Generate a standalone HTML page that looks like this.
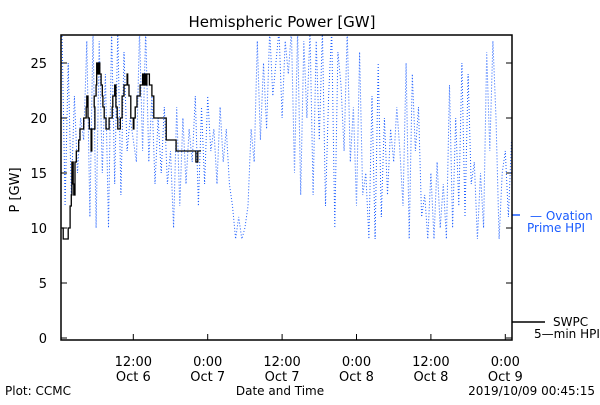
<!DOCTYPE html>
<html><head><meta charset="utf-8"><style>
body{margin:0;background:#fff;}
svg text{font-family:"DejaVu Sans","Liberation Sans",sans-serif;}
</style></head><body>
<svg id="c" width="600" height="400" xmlns="http://www.w3.org/2000/svg">
<rect width="600" height="400" fill="#fff"/>
<text x="282" y="27" font-size="15" text-anchor="middle">Hemispheric Power [GW]</text>
<text transform="translate(19,190) rotate(-90)" font-size="13" text-anchor="middle">P [GW]</text>
<text x="280" y="395" font-size="12" text-anchor="middle">Date and Time</text>
<text x="5" y="395" font-size="12">Plot: CCMC</text>
<text x="595" y="395" font-size="12" text-anchor="end">2019/10/09 00:45:15</text>
<g>
<line x1="512" y1="215" x2="520" y2="215" stroke="#1a5cff" stroke-width="1.5"/>
<text x="530" y="220" font-size="12" fill="#1a5cff">— Ovation</text>
<text x="527" y="232" font-size="12" fill="#1a5cff">Prime HPI</text>
</g>
<g>
<line x1="512" y1="322" x2="545" y2="322" stroke="#000" stroke-width="1.5"/>
<text x="553" y="326" font-size="12">SWPC</text>
<text x="534" y="338" font-size="12">5—min HPI</text>
</g>
<defs><clipPath id="pc"><rect x="61" y="35" width="451" height="305"/></clipPath></defs>
<g id="axes"></g>
<g id="series" clip-path="url(#pc)"></g>
<rect x="61" y="35" width="451" height="305" fill="none" stroke="#000" stroke-width="1.5"/>
</svg>
<script>
const yTicks=[0,5,10,15,20,25];
const xTickHours=[11.5,23.5,35.5,47.5,59.5,71.5];
const xTickLine1=["12:00","0:00","12:00","0:00","12:00","0:00"];
const xTickLine2=["Oct 6","Oct 7","Oct 7","Oct 8","Oct 8","Oct 9"];
const swpcHours=[0,0.2,0.8,1,1.3,1.5,1.6,1.8,1.9,2.1,2.3,2.6,2.7,2.9,3.2,3.5,3.9,4,4.2,4.4,4.7,4.8,5.3,5.2,5.5,5.6,5.8,6.0,6.1,6.3,6.5,6.6,6.8,7.1,7.4,7.6,8.1,8.2,8.5,8.7,8.9,9.0,9.2,9.4,9.7,9.7,10.0,10.5,10.6,10.8,11.1,11.5,11.5,11.6,11.8,12.1,12.6,13.0,13.2,13.4,13.5,13.7,14.1,14.2,14.5,14.8,14.8,15.3,15.6,16.0,16.3,16.6,16.8,17.5,18.1,18.4,18.7,19.0,19.4,19.7,20.0,21.6,21.9,22.1,22.4];
const swpcValues=[10,9,9,10,12,13,16,14,13,16,17,17,18,19,19,20,21,22,20,19,17,19,21,22,23,25,24,25,24,23,22,21,20,19,19,20,21,22,23,21,20,19,19,20,21,22,23,24,23,22,20,19,19,20,21,22,23,24,23,24,23,24,23,23,22,21,20,20,20,20,20,20,18,18,18,17,17,17,17,17,17,16,17,17,17];
const ovationValues=[28,12,25,13,22,15,20,18,27,11,28,10,27,15,24,10,28,14,28,13,26,17,20,18,16,28,17,28,16,22,14,20,15,21,14,17,10,21,12,20,14,19,16,22,12,21,14,22,17,19,14,21,16,19,14,12,9,11,9,10,12,19,16,27,18,25,19,28,22,25,28,20,27,24,28,15,28,13,27,20,28,13,27,18,28,12,22,28,10,26,23,17,28,16,21,12,26,13,15,9,22,9,25,11,20,13,19,16,21,17,12,25,9,24,17,21,11,13,9,15,9,16,10,14,9,23,10,20,12,25,11,24,14,16,9,15,10,26,17,27,20,9,15,17,11,18];
const ovationStepHours=0.5;
const NS="http://www.w3.org/2000/svg";
const X=h=>62+h*6.2, Y=v=>338-v*11;
const ax=document.getElementById('axes'), se=document.getElementById('series');
function mk(t,a,p){const e=document.createElementNS(NS,t);for(const k in a)e.setAttribute(k,a[k]);p.appendChild(e);return e;}
yTicks.forEach(v=>{
  const l=mk('line',{x1:61,x2:67,y1:Y(v),y2:Y(v),stroke:'#000'},ax);
  
  
  const r=mk('line',{x1:506,x2:512,y1:Y(v),y2:Y(v),stroke:'#000'},ax);
  
  
  const t=mk('text',{x:47,y:Y(v)+5,'font-size':13,'text-anchor':'end'},ax);t.textContent=v;
  
  
});
xTickHours.forEach((h,i)=>{
  const l=mk('line',{x1:X(h),x2:X(h),y1:334,y2:340,stroke:'#000'},ax);
  
  
  const t1=mk('text',{x:X(h),y:366,'font-size':13,'text-anchor':'middle'},ax);t1.textContent=xTickLine1[i];
  
  
  const t2=mk('text',{x:X(h),y:381,'font-size':13,'text-anchor':'middle'},ax);t2.textContent=xTickLine2[i];
  
  
});
const op=ovationValues.map((v,i)=>X(i*ovationStepHours).toFixed(1)+','+Y(v).toFixed(1)).join(' ');
const ov=mk('polyline',{points:op,fill:'none',stroke:'#1a5cff','stroke-width':1,'stroke-dasharray':'1 2'},se);


let sp='';
swpcValues.forEach((v,i)=>{
  if(i>0) sp+=X(swpcHours[i]).toFixed(1)+','+Y(swpcValues[i-1]).toFixed(1)+' ';
  sp+=X(swpcHours[i]).toFixed(1)+','+Y(v).toFixed(1)+' ';
});
const sw=mk('polyline',{points:sp,fill:'none',stroke:'#000','stroke-width':1.3},se);


</script>
</body></html>
